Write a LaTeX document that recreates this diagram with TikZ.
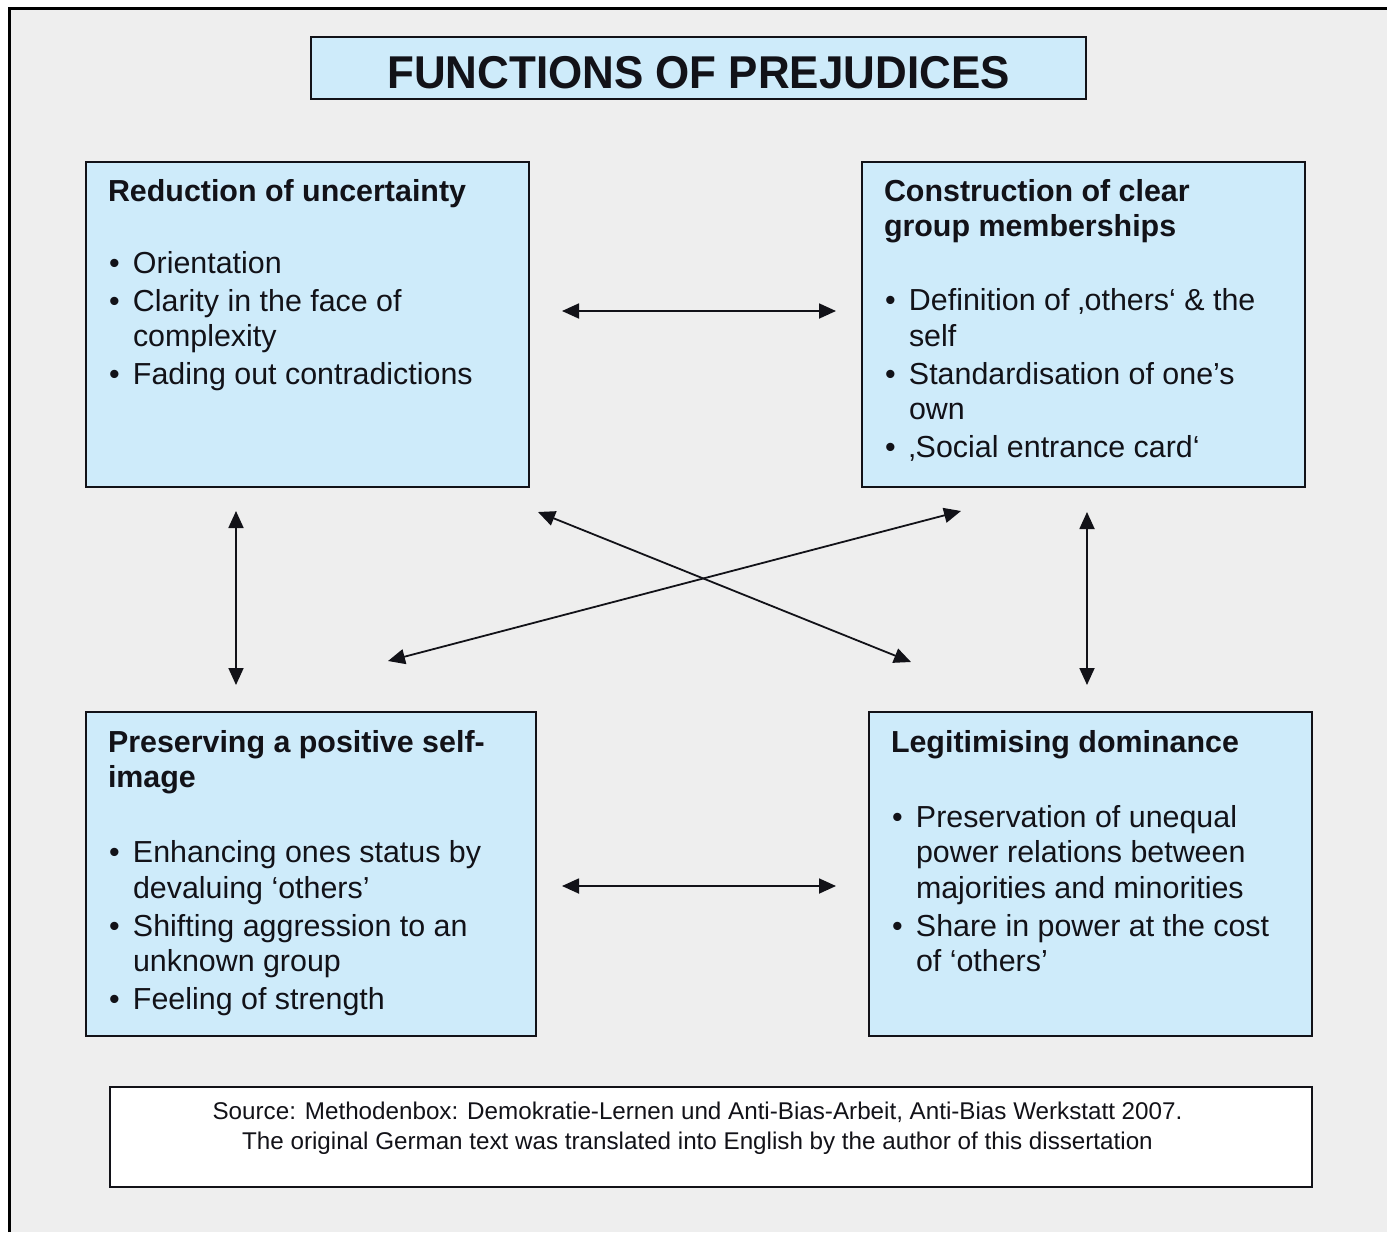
\documentclass[tikz,border=0pt]{standalone}
\usepackage{fontspec}
\setmainfont{Liberation Sans}
\usepackage{graphicx}
\usetikzlibrary{arrows.meta}

\definecolor{panel}{RGB}{238,238,238}
\definecolor{boxblue}{RGB}{206,235,250}
\definecolor{ink}{RGB}{18,18,24}

% bullet marker and continuation indent for the list lines
\newcommand\itm{\makebox[25pt][l]{\hspace*{1pt}\textbullet}}
\newcommand\cnt{\hspace*{25pt}}
\newcommand\boxfont{\fontsize{30.4pt}{35.5pt}\selectfont}

\begin{document}
\begin{tikzpicture}[x=1pt,y=-1pt,
  funcbox/.style={draw=ink,line width=1.5pt,fill=boxblue,inner sep=0pt,outer sep=0pt,anchor=north west},
  boxtext/.style={anchor=base west,inner sep=0pt,outer sep=0pt,text=ink},
  dbl/.style={draw=ink,line width=1.8pt,{Triangle[length=17pt,width=15pt]}-{Triangle[length=17pt,width=15pt]}}]

% page and frame
\useasboundingbox (0,0) rectangle (1387,1232);
\fill[white] (0,0) rectangle (1387,1232);
\fill[panel] (9,8) rectangle (1387,1232);
\draw[black,line width=3pt] (9,1232) -- (9,8) -- (1387,8);

% title
\node[funcbox,minimum width=775pt,minimum height=62pt] (title) at (311,37) {};
\node[anchor=base,inner sep=0pt,text=ink] (titletext) at (698.5,88)
  {\scalebox{0.955}[1]{\fontsize{46pt}{50pt}\selectfont\bfseries FUNCTIONS OF PREJUDICES}};

% the four function boxes
\node[funcbox,minimum width=443pt,minimum height=325pt] (tl) at (86,162) {};
\node[funcbox,minimum width=443pt,minimum height=325pt] (tr) at (862,162) {};
\node[funcbox,minimum width=450pt,minimum height=324pt] (bl) at (86,712) {};
\node[funcbox,minimum width=443pt,minimum height=324pt] (br) at (869,712) {};

\node[boxtext] (tltext) at (108,201) {\parbox[t]{420pt}{\boxfont
  \textbf{Reduction of uncertainty}\\[36.5pt]
  \itm Orientation\\[2.5pt]
  \itm Clarity in the face of\\
  \cnt complexity\\[2.5pt]
  \itm Fading out contradictions}};

\node[boxtext] (trtext) at (884,201) {\parbox[t]{420pt}{\boxfont
  \textbf{Construction of clear}\\
  \textbf{group memberships}\\[38.5pt]
  \itm Definition of ‚others‘ \& the\\
  \cnt self\\[2.5pt]
  \itm Standardisation of one’s\\
  \cnt own\\[2.5pt]
  \itm ‚Social entrance card‘}};

\node[boxtext] (bltext) at (108,752) {\parbox[t]{420pt}{\boxfont
  \textbf{Preserving a positive self-}\\
  \textbf{image}\\[39.5pt]
  \itm Enhancing ones status by\\
  \cnt devaluing ‘others’\\[2.5pt]
  \itm Shifting aggression to an\\
  \cnt unknown group\\[2.5pt]
  \itm Feeling of strength}};

\node[boxtext] (brtext) at (891,752) {\parbox[t]{420pt}{\boxfont
  \textbf{Legitimising dominance}\\[39.5pt]
  \itm Preservation of unequal\\
  \cnt power relations between\\
  \cnt majorities and minorities\\[2.5pt]
  \itm Share in power at the cost\\
  \cnt of ‘others’}};

% source note
\node[draw=ink,line width=2pt,fill=white,minimum width=1202pt,minimum height=100pt,
  inner sep=0pt,outer sep=0pt,anchor=north west] (src) at (110,1087) {};
\node[anchor=base,inner sep=0pt,text=ink] (srctext) at (697.5,1119)
  {\parbox[t]{1150pt}{\centering\fontsize{24.2pt}{30pt}\selectfont
   Source: Methodenbox: Demokratie-Lernen und Anti-Bias-Arbeit, Anti-Bias Werkstatt 2007.\\
   The original German text was translated into English by the author of this dissertation}};

% connector end points between the boxes
\coordinate (toprowL) at (562,311);
\coordinate (toprowR) at (836,311);
\coordinate (botrowL) at (562,886);
\coordinate (botrowR) at (836,886);
\coordinate (leftcolT) at (236,511);
\coordinate (leftcolB) at (236,685);
\coordinate (rightcolT) at (1087,512);
\coordinate (rightcolB) at (1087,685);
\coordinate (diagAa) at (538,512);
\coordinate (diagAb) at (911,662);
\coordinate (diagBa) at (961,511);
\coordinate (diagBb) at (388,661);

\draw[dbl] (toprowL) -- (toprowR);
\draw[dbl] (botrowL) -- (botrowR);
\draw[dbl] (leftcolT) -- (leftcolB);
\draw[dbl] (rightcolT) -- (rightcolB);
\draw[dbl] (diagAa) -- (diagAb);
\draw[dbl] (diagBa) -- (diagBb);
\end{tikzpicture}
\end{document}
